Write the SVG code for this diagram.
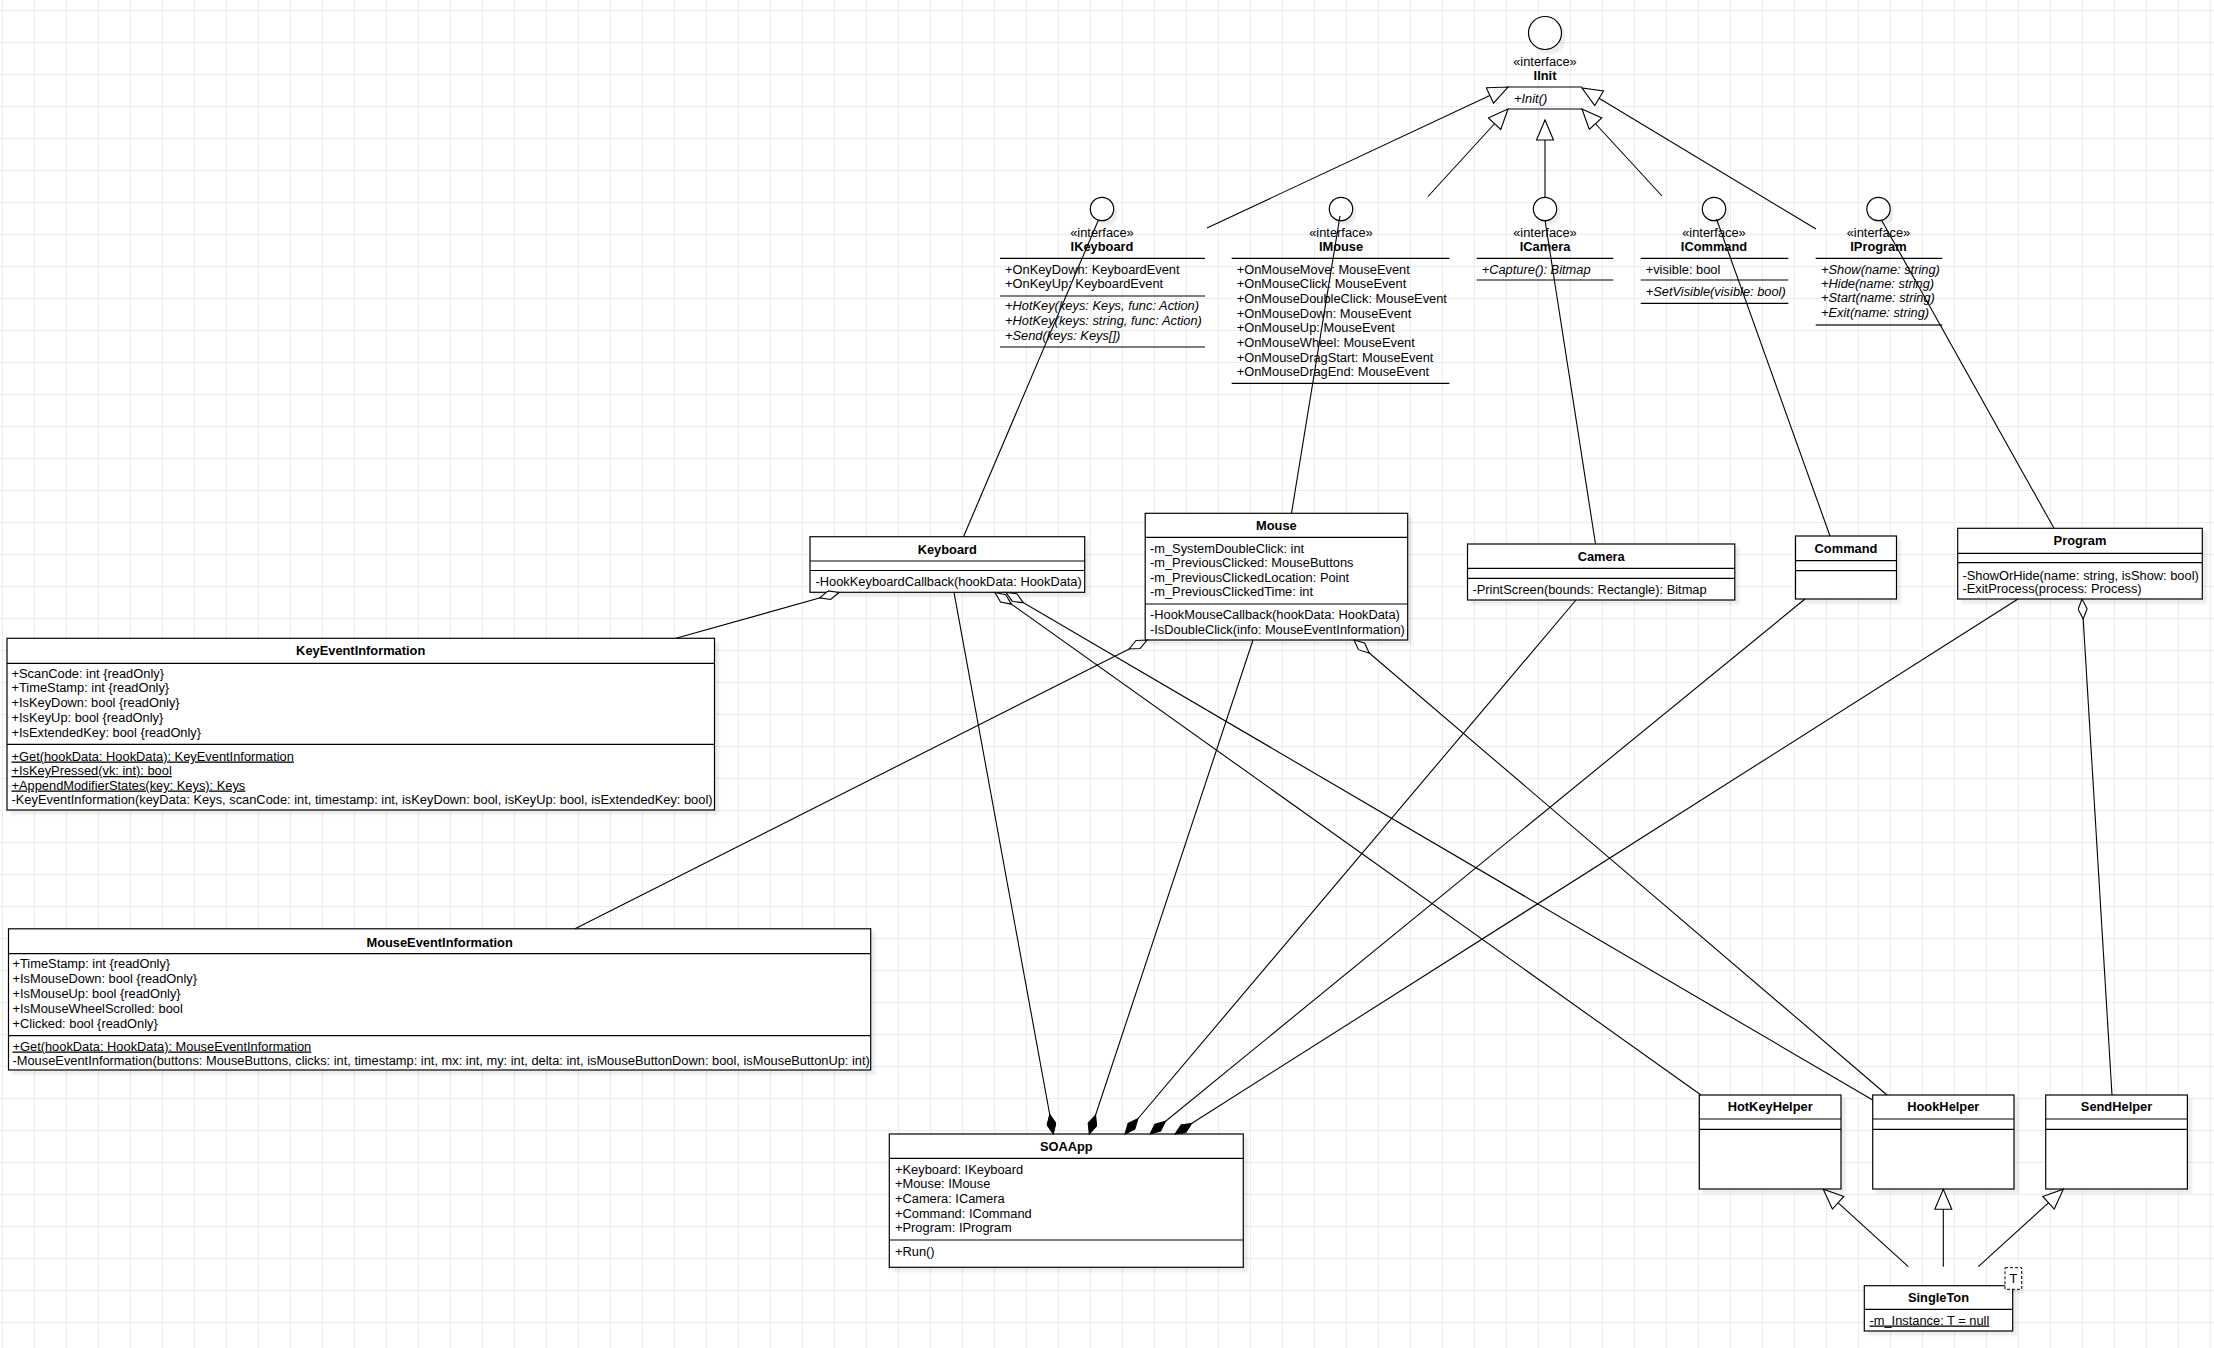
<svg xmlns="http://www.w3.org/2000/svg" width="2214" height="1348" viewBox="0 0 2214 1348">
<defs>
<pattern id="grid" width="32" height="32" patternUnits="userSpaceOnUse" x="2" y="10">
<path d="M0 0.5H32M0.5 0V32" fill="none" stroke="#ececec" stroke-width="1"/>
</pattern>
<filter id="sh" x="-5%" y="-5%" width="115%" height="125%">
<feDropShadow dx="4" dy="4" stdDeviation="1" flood-color="#000" flood-opacity="0.07"/>
</filter>
<marker id="tri" markerUnits="userSpaceOnUse" markerWidth="24" markerHeight="20" refX="21" refY="9" orient="auto">
<path d="M1,0.5 L21,9 L1,17.5 Z" fill="#fff" stroke="#000" stroke-width="1.1"/>
</marker>
<marker id="dfill" markerUnits="userSpaceOnUse" markerWidth="24" markerHeight="12" refX="21" refY="5" orient="auto-start-reverse">
<path d="M1,5 L11,0.5 L21,5 L11,9.5 Z" fill="#000" stroke="#000" stroke-width="1"/>
</marker>
<marker id="dhol" markerUnits="userSpaceOnUse" markerWidth="24" markerHeight="12" refX="21" refY="5" orient="auto-start-reverse">
<path d="M1,5 L11,0.5 L21,5 L11,9.5 Z" fill="#fff" stroke="#000" stroke-width="1.1"/>
</marker>
<style>
.t{font-family:"Liberation Sans",Arial,Helvetica,sans-serif;font-size:12.85px;fill:#000}
.b{font-weight:bold}
.i{font-style:italic}
.u{text-decoration:underline}
.c{text-anchor:middle}
.box{fill:#fff;stroke:#000;stroke-width:1.2;filter:url(#sh)}
.ln{stroke:#000;stroke-width:1.2;fill:none}
.ci{fill:#fff;stroke:#000;stroke-width:1.2;filter:url(#sh)}
.cn{fill:none;stroke:#000;stroke-width:1.1}
</style>
</defs>
<rect x="0" y="0" width="2214" height="1348" fill="#fff"/>
<rect x="0" y="0" width="2214" height="1348" fill="url(#grid)"/>

<g id="IInit">
<circle class="ci" cx="1545" cy="33" r="16.5"/>
<text class="t c" x="1545" y="65.5">«interface»</text>
<text class="t c b" x="1545" y="79.5">IInit</text>
<path class="ln" d="M1508 87H1582M1508 109H1582"/>
<text class="t i" x="1514" y="102.5">+Init()</text>
</g>

<g id="IKeyboard">
<circle class="ci" cx="1102" cy="209" r="11.7"/>
<text class="t c" x="1102" y="236.5">«interface»</text>
<text class="t c b" x="1102" y="250.5">IKeyboard</text>
<path class="ln" d="M1000 258.3H1205M1000 296H1205M1000 347H1205"/>
<text class="t" x="1005" y="273.5">+OnKeyDown: KeyboardEvent</text>
<text class="t" x="1005" y="288">+OnKeyUp: KeyboardEvent</text>
<text class="t i" x="1005" y="310.2">+HotKey(keys: Keys, func: Action)</text>
<text class="t i" x="1005" y="325.2">+HotKey(keys: string, func: Action)</text>
<text class="t i" x="1005" y="340.2">+Send(keys: Keys[])</text>
</g>

<g id="IMouse">
<circle class="ci" cx="1341" cy="209" r="11.7"/>
<text class="t c" x="1341" y="236.5">«interface»</text>
<text class="t c b" x="1341" y="250.5">IMouse</text>
<path class="ln" d="M1231.7 258.3H1449.3M1231.7 383.3H1449.3"/>
<text class="t" x="1236.7" y="273.5">+OnMouseMove: MouseEvent</text>
<text class="t" x="1236.7" y="288.2">+OnMouseClick: MouseEvent</text>
<text class="t" x="1236.7" y="302.8">+OnMouseDoubleClick: MouseEvent</text>
<text class="t" x="1236.7" y="317.5">+OnMouseDown: MouseEvent</text>
<text class="t" x="1236.7" y="332.2">+OnMouseUp: MouseEvent</text>
<text class="t" x="1236.7" y="346.8">+OnMouseWheel: MouseEvent</text>
<text class="t" x="1236.7" y="361.5">+OnMouseDragStart: MouseEvent</text>
<text class="t" x="1236.7" y="376.2">+OnMouseDragEnd: MouseEvent</text>
</g>

<g id="ICamera">
<circle class="ci" cx="1545" cy="209" r="11.7"/>
<text class="t c" x="1545" y="236.5">«interface»</text>
<text class="t c b" x="1545" y="250.5">ICamera</text>
<path class="ln" d="M1476.7 258.3H1613.3M1476.7 280H1613.3"/>
<text class="t i" x="1481.7" y="273.5">+Capture(): Bitmap</text>
</g>

<g id="ICommand">
<circle class="ci" cx="1714" cy="209" r="11.7"/>
<text class="t c" x="1714" y="236.5">«interface»</text>
<text class="t c b" x="1714" y="250.5">ICommand</text>
<path class="ln" d="M1640.7 258.3H1788.3M1640.7 280H1788.3M1640.7 303.3H1788.3"/>
<text class="t" x="1645.7" y="273.5">+visible: bool</text>
<text class="t i" x="1645.7" y="296.2">+SetVisible(visible: bool)</text>
</g>

<g id="IProgram">
<circle class="ci" cx="1878.5" cy="209" r="11.7"/>
<text class="t c" x="1878.5" y="236.5">«interface»</text>
<text class="t c b" x="1878.5" y="250.5">IProgram</text>
<path class="ln" d="M1815.7 258.3H1942.3"/>
<path d="M1815.7 325H1942.3" stroke="#666" stroke-width="2"/>
<text class="t i" x="1821" y="273.5">+Show(name: string)</text>
<text class="t i" x="1821" y="287.8">+Hide(name: string)</text>
<text class="t i" x="1821" y="302.2">+Start(name: string)</text>
<text class="t i" x="1821" y="316.8">+Exit(name: string)</text>
</g>

<g id="Keyboard">
<rect class="box" x="810" y="536.7" width="274.7" height="55.6"/>
<path class="ln" d="M810 561H1084.7M810 570.5H1084.7"/>
<text class="t c b" x="947.3" y="553.5">Keyboard</text>
<text class="t" x="815.5" y="585.5">-HookKeyboardCallback(hookData: HookData)</text>
</g>

<g id="Mouse">
<rect class="box" x="1145.2" y="513.3" width="262.5" height="126.7"/>
<path class="ln" d="M1145.2 537.3H1407.7M1145.2 604H1407.7"/>
<text class="t c b" x="1276.4" y="529.5">Mouse</text>
<text class="t" x="1150" y="552.8">-m_SystemDoubleClick: int</text>
<text class="t" x="1150" y="567.2">-m_PreviousClicked: MouseButtons</text>
<text class="t" x="1150" y="581.8">-m_PreviousClickedLocation: Point</text>
<text class="t" x="1150" y="596.2">-m_PreviousClickedTime: int</text>
<text class="t" x="1150" y="618.8">-HookMouseCallback(hookData: HookData)</text>
<text class="t" x="1150" y="633.8">-IsDoubleClick(info: MouseEventInformation)</text>
</g>

<g id="Camera">
<rect class="box" x="1467.5" y="544" width="267.3" height="56"/>
<path class="ln" d="M1467.5 568.3H1734.8M1467.5 578.3H1734.8"/>
<text class="t c b" x="1601.2" y="561.2">Camera</text>
<text class="t" x="1472.5" y="593.8">-PrintScreen(bounds: Rectangle): Bitmap</text>
</g>

<g id="Command">
<rect class="box" x="1795.5" y="536" width="101" height="63"/>
<path class="ln" d="M1795.5 560.7H1896.5M1795.5 570.7H1896.5"/>
<text class="t c b" x="1846" y="552.8">Command</text>
</g>

<g id="Program">
<rect class="box" x="1957.7" y="528.3" width="244.6" height="70.7"/>
<path class="ln" d="M1957.7 553.3H2202.3M1957.7 562.7H2202.3"/>
<text class="t c b" x="2080" y="545.2">Program</text>
<text class="t" x="1962.5" y="579.5">-ShowOrHide(name: string, isShow: bool)</text>
<text class="t" x="1962.5" y="592.8">-ExitProcess(process: Process)</text>
</g>

<g id="KeyEventInformation">
<rect class="box" x="7" y="638.3" width="707.5" height="171.7"/>
<path class="ln" d="M7 663.3H714.5M7 744.3H714.5"/>
<text class="t c b" x="360.7" y="655.2">KeyEventInformation</text>
<text class="t" x="11.5" y="677.5">+ScanCode: int {readOnly}</text>
<text class="t" x="11.5" y="692.4">+TimeStamp: int {readOnly}</text>
<text class="t" x="11.5" y="707.3">+IsKeyDown: bool {readOnly}</text>
<text class="t" x="11.5" y="722.2">+IsKeyUp: bool {readOnly}</text>
<text class="t" x="11.5" y="737.1">+IsExtendedKey: bool {readOnly}</text>
<text class="t u" x="11.5" y="760.5">+Get(hookData: HookData): KeyEventInformation</text>
<text class="t u" x="11.5" y="775">+IsKeyPressed(vk: int): bool</text>
<text class="t u" x="11.5" y="789.5">+AppendModifierStates(key: Keys): Keys</text>
<text class="t" x="11.5" y="804">-KeyEventInformation(keyData: Keys, scanCode: int, timestamp: int, isKeyDown: bool, isKeyUp: bool, isExtendedKey: bool)</text>
</g>

<g id="MouseEventInformation">
<rect class="box" x="8.5" y="928.8" width="862.2" height="141.2"/>
<path class="ln" d="M8.5 953.7H870.7M8.5 1035.7H870.7"/>
<text class="t c b" x="439.6" y="947.2">MouseEventInformation</text>
<text class="t" x="12.5" y="967.8">+TimeStamp: int {readOnly}</text>
<text class="t" x="12.5" y="982.8">+IsMouseDown: bool {readOnly}</text>
<text class="t" x="12.5" y="997.8">+IsMouseUp: bool {readOnly}</text>
<text class="t" x="12.5" y="1012.8">+IsMouseWheelScrolled: bool</text>
<text class="t" x="12.5" y="1027.8">+Clicked: bool {readOnly}</text>
<text class="t u" x="12.5" y="1050.5">+Get(hookData: HookData): MouseEventInformation</text>
<text class="t" x="12.5" y="1065.2">-MouseEventInformation(buttons: MouseButtons, clicks: int, timestamp: int, mx: int, my: int, delta: int, isMouseButtonDown: bool, isMouseButtonUp: int)</text>
</g>

<g id="SOAApp">
<rect class="box" x="889.3" y="1134" width="354" height="133.3"/>
<path class="ln" d="M889.3 1158.3H1243.3M889.3 1240H1243.3"/>
<text class="t c b" x="1066.3" y="1151.2">SOAApp</text>
<text class="t" x="895" y="1173.5">+Keyboard: IKeyboard</text>
<text class="t" x="895" y="1188.2">+Mouse: IMouse</text>
<text class="t" x="895" y="1202.8">+Camera: ICamera</text>
<text class="t" x="895" y="1217.5">+Command: ICommand</text>
<text class="t" x="895" y="1232.2">+Program: IProgram</text>
<text class="t" x="895" y="1255.5">+Run()</text>
</g>

<g id="HotKeyHelper">
<rect class="box" x="1699.3" y="1095" width="141.7" height="94"/>
<path class="ln" d="M1699.3 1119H1841M1699.3 1129.3H1841"/>
<text class="t c b" x="1770.2" y="1111.2">HotKeyHelper</text>
</g>

<g id="HookHelper">
<rect class="box" x="1872.7" y="1095" width="141.3" height="94"/>
<path class="ln" d="M1872.7 1119H2014M1872.7 1129.3H2014"/>
<text class="t c b" x="1943.3" y="1111.2">HookHelper</text>
</g>

<g id="SendHelper">
<rect class="box" x="2045.7" y="1095" width="141.7" height="94"/>
<path class="ln" d="M2045.7 1119H2187.4M2045.7 1129.3H2187.4"/>
<text class="t c b" x="2116.5" y="1111.2">SendHelper</text>
</g>

<g id="SingleTon">
<rect class="box" x="1864.3" y="1285.7" width="148.4" height="45.3"/>
<path class="ln" d="M1864.3 1309.3H2012.7"/>
<text class="t c b" x="1938.5" y="1302.2">SingleTon</text>
<text class="t u" x="1869.5" y="1324.5">-m_Instance: T = null</text>
<rect x="2005" y="1267.7" width="16.7" height="21.6" fill="#fff" stroke="#000" stroke-width="1" stroke-dasharray="3 2" filter="url(#sh)"/>
<text class="t c" x="2013.4" y="1283">T</text>
</g>

<g id="connectors">
<path class="cn" d="M1207 228L1508 87" marker-end="url(#tri)"/>
<path class="cn" d="M1428 196.5L1508 109" marker-end="url(#tri)"/>
<path class="cn" d="M1545 197.3L1545 120" marker-end="url(#tri)"/>
<path class="cn" d="M1662 196L1582 109" marker-end="url(#tri)"/>
<path class="cn" d="M1816 229L1582 88" marker-end="url(#tri)"/>

<path class="cn" d="M1098 221L963.5 536.7"/>
<path class="cn" d="M1340 216L1291.5 513.3"/>
<path class="cn" d="M1545 220L1595.5 544"/>
<path class="cn" d="M1716.5 219L1830 536"/>
<path class="cn" d="M1882 221L2054 528.3"/>

<path class="cn" d="M954 592.3L1053.3 1134" marker-end="url(#dfill)"/>
<path class="cn" d="M1253 640L1089.3 1134" marker-end="url(#dfill)"/>
<path class="cn" d="M1576 600L1125 1134" marker-end="url(#dfill)"/>
<path class="cn" d="M1805 599L1150 1134" marker-end="url(#dfill)"/>
<path class="cn" d="M2018 599L1175 1134" marker-end="url(#dfill)"/>

<path class="cn" d="M839 592.5L676 638.3" marker-start="url(#dhol)"/>
<path class="cn" d="M1147 640L575 928.8" marker-start="url(#dhol)"/>
<path class="cn" d="M995 592.5L1701 1095" marker-start="url(#dhol)"/>
<path class="cn" d="M1006 592.5L1872.7 1100" marker-start="url(#dhol)"/>
<path class="cn" d="M1354 640L1887 1095" marker-start="url(#dhol)"/>
<path class="cn" d="M2082 599L2112 1095" marker-start="url(#dhol)"/>

<path class="cn" d="M1908.3 1266.7L1823.3 1189.3" marker-end="url(#tri)"/>
<path class="cn" d="M1943.3 1266.7L1943.3 1189.3" marker-end="url(#tri)"/>
<path class="cn" d="M1978.3 1266.7L2063.3 1189.3" marker-end="url(#tri)"/>
</g>
</svg>
